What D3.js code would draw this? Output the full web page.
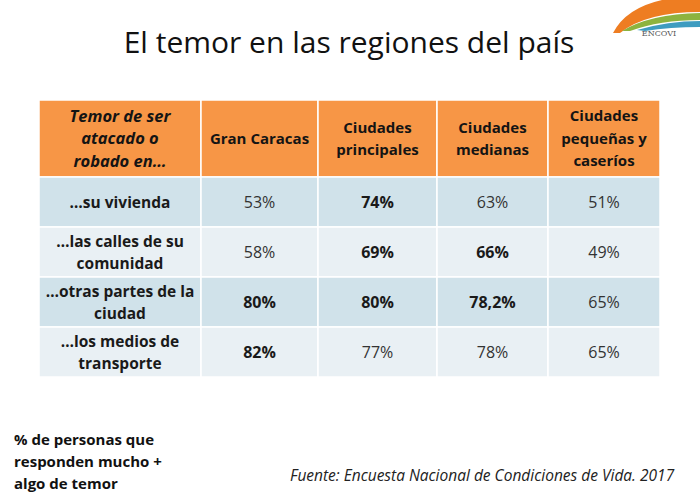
<!DOCTYPE html>
<html>
<head>
<meta charset="utf-8">
<script src="https://cdn.jsdelivr.net/npm/d3@7"></script>
<style>
  body { margin: 0; background: #fff; }
  svg { display: block; font-family: "Open Sans", Lato, sans-serif; }
</style>
</head>
<body>
<svg id="chart" width="700" height="503"></svg>
<script>
// datos de la tabla
const columnas = ["Gran Caracas", "Ciudades principales", "Ciudades medianas", "Ciudades pequeñas y caseríos"];
const filas = ["…su vivienda", "…las calles de su comunidad", "…otras partes de la ciudad", "…los medios de transporte"];
const valores = [
  [53, 74, 63, 51],
  [58, 69, 66, 49],
  [80, 80, 78.2, 65],
  [82, 77, 78, 65]
];
// celdas resaltadas en negrita en el original
const destacados = [
  [false, true, false, false],
  [false, true, true, false],
  [true, true, true, false],
  [true, false, false, false]
];

const titulo = "El temor en las regiones del país";
const encabezado = "Temor de ser atacado o robado en…";
const nota = "% de personas que responden mucho + algo de temor";
const fuente = "Fuente: Encuesta Nacional de Condiciones de Vida. 2017";

// textos partidos en líneas como en la lámina
const lineas = {
  "Temor de ser atacado o robado en…": ["Temor de ser", "atacado o", "robado en…"],
  "Gran Caracas": ["Gran Caracas"],
  "Ciudades principales": ["Ciudades", "principales"],
  "Ciudades medianas": ["Ciudades", "medianas"],
  "Ciudades pequeñas y caseríos": ["Ciudades", "pequeñas y", "caseríos"],
  "…su vivienda": ["…su vivienda"],
  "…las calles de su comunidad": ["…las calles de su", "comunidad"],
  "…otras partes de la ciudad": ["…otras partes de la", "ciudad"],
  "…los medios de transporte": ["…los medios de", "transporte"],
  "% de personas que responden mucho + algo de temor": ["% de personas que", "responden mucho +", "algo de temor"]
};

const svg = d3.select("#chart");
const fmt = v => String(v).replace(".", ",") + "%";

// columnas: la primera es la de etiquetas
const bordes = [39, 201, 318, 437, 548, 660];
const x = d3.scaleOrdinal().domain(["etiqueta"].concat(columnas)).range(bordes.slice(0, 5));
const ancho = d => bordes[bordes.indexOf(x(d)) + 1] - x(d);

const y = d3.scaleBand().domain(filas).range([177, 377]);
const cabTop = 100, cabAlto = 77;

const naranja = "#F79646", azul1 = "#D0E2EA", azul2 = "#E9F0F4";

function multilinea(g, cx, cy, textos, size, lh, opts) {
  const t = g.append("text")
    .attr("text-anchor", opts.anchor || "middle")
    .attr("font-size", size)
    .attr("font-weight", opts.weight || "normal")
    .attr("font-style", opts.style || "normal")
    .attr("fill", opts.fill || "#222");
  const n = textos.length;
  textos.forEach((s, i) => {
    t.append("tspan")
      .attr("x", cx)
      .attr("y", cy + (i - (n - 1) / 2) * lh + size * 0.36)
      .text(s);
  });
  return t;
}

// título
svg.append("text")
  .attr("x", 349).attr("y", 53)
  .attr("text-anchor", "middle")
  .attr("font-size", 30)
  .attr("fill", "#111")
  .text(titulo);

// logo ENCOVI
const logo = svg.append("g");
logo.append("path").attr("fill", "#EE7D22")
  .attr("d", "M613,33 Q626,8 662,0 L700,0 L700,12 Q646,12 620,33 Z");
logo.append("path").attr("fill", "#8DB33F")
  .attr("d", "M622,31 Q650,14 700,13 L700,20 Q660,20 630,31 Z");
logo.append("path").attr("fill", "#3E9CC0")
  .attr("d", "M637,30 Q668,21 700,21 L700,27 Q670,27 645,31 Z");
logo.append("text")
  .attr("x", 659).attr("y", 36)
  .attr("text-anchor", "middle")
  .attr("font-family", "'DejaVu Serif', 'Liberation Serif', serif")
  .attr("font-size", 8)
  .attr("fill", "#555")
  .text("ENCOVI");

// encabezado
const cab = svg.append("g");
["etiqueta"].concat(columnas).forEach(c => {
  cab.append("rect")
    .attr("x", x(c)).attr("y", cabTop)
    .attr("width", ancho(c)).attr("height", cabAlto)
    .attr("fill", naranja)
    .attr("stroke", "#fff").attr("stroke-width", 1.5);
  const esEtiqueta = c === "etiqueta";
  const txt = esEtiqueta ? encabezado : c;
  multilinea(cab, x(c) + ancho(c) / 2, cabTop + cabAlto / 2, lineas[txt], esEtiqueta ? 16.5 : 15, 22.5,
    { weight: "bold", style: esEtiqueta ? "italic" : "normal", fill: "#141414" });
});

// cuerpo
const cuerpo = svg.append("g");
filas.forEach((f, i) => {
  const fondo = i % 2 === 0 ? azul1 : azul2;
  const cy = y(f) + y.bandwidth() / 2;
  cuerpo.append("rect")
    .attr("x", x("etiqueta")).attr("y", y(f))
    .attr("width", ancho("etiqueta")).attr("height", y.bandwidth())
    .attr("fill", fondo).attr("stroke", "#fff").attr("stroke-width", 1.5);
  multilinea(cuerpo, x("etiqueta") + ancho("etiqueta") / 2, cy, lineas[f], 15.5, 22,
    { weight: "bold", fill: "#1a1a1a" });
  columnas.forEach((c, j) => {
    cuerpo.append("rect")
      .attr("x", x(c)).attr("y", y(f))
      .attr("width", ancho(c)).attr("height", y.bandwidth())
      .attr("fill", fondo).attr("stroke", "#fff").attr("stroke-width", 1.5);
    multilinea(cuerpo, x(c) + ancho(c) / 2, cy, [fmt(valores[i][j])], 16, 21,
      { weight: destacados[i][j] ? "bold" : "normal", fill: destacados[i][j] ? "#1a1a1a" : "#333" });
  });
});

// nota y fuente
multilinea(svg, 14, 462, lineas[nota], 15, 22, { anchor: "start", weight: "bold", fill: "#111" });
svg.append("text")
  .attr("x", 290).attr("y", 481)
  .attr("font-size", 15.5)
  .attr("font-style", "italic")
  .attr("fill", "#222")
  .text(fuente);
</script>
</body>
</html>
